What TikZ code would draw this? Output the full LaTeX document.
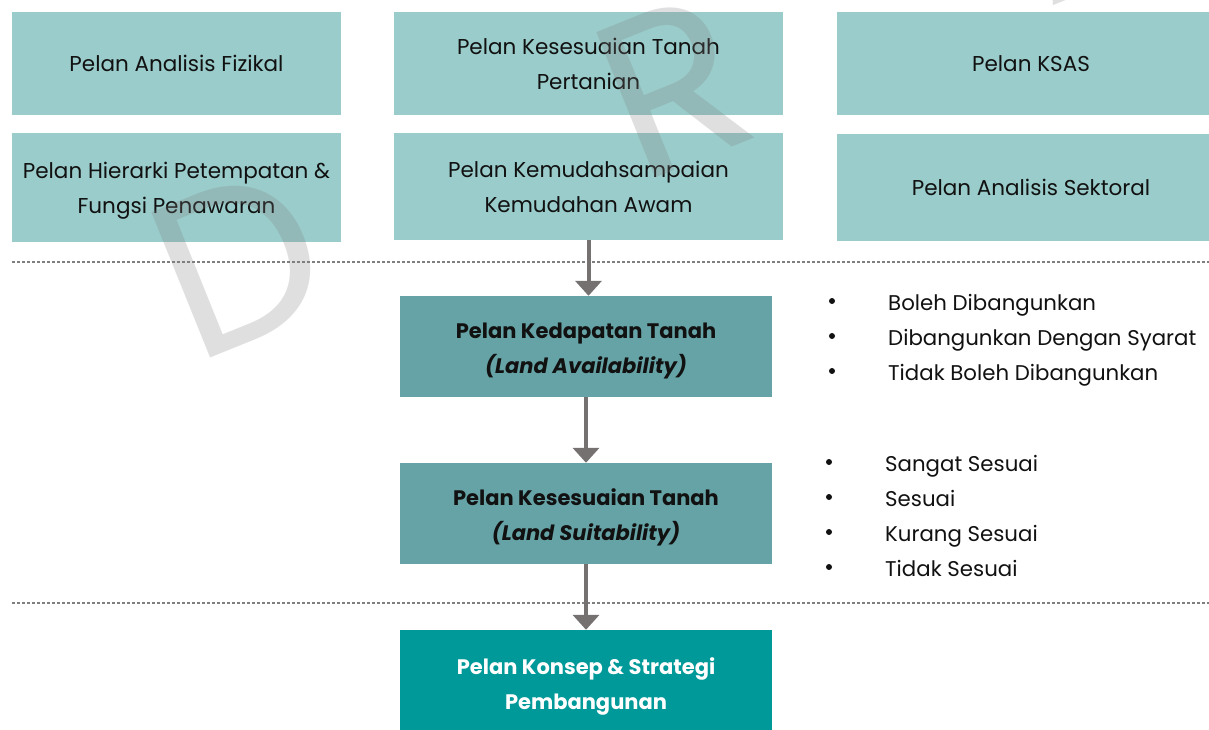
\documentclass[tikz,border=0pt]{standalone}
\usepackage{fontspec}
\setmainfont{Poppins}
\usetikzlibrary{arrows.meta}
\definecolor{lightteal}{HTML}{99CCCA}
\definecolor{midteal}{HTML}{66A3A6}
\definecolor{darkteal}{HTML}{009999}
\definecolor{arrgray}{HTML}{767171}
\definecolor{dotgray}{HTML}{7F7F7F}
\definecolor{txt}{HTML}{111111}
\tikzset{
  lbox/.style={rectangle, fill=lightteal, inner sep=0pt, align=center, text=txt, font=\fontsize{21.5}{35}\selectfont},
  ltext/.style={inner sep=0pt, align=center, text=txt, font=\fontsize{21.5}{35}\selectfont},
  mbox/.style={rectangle, fill=midteal, inner sep=0pt, minimum width=372pt, minimum height=101pt},
  fbox/.style={rectangle, fill=darkteal, inner sep=0pt, minimum width=372pt, minimum height=100pt},
  btext/.style={inner sep=0pt, align=center, text=txt, font=\bfseries\fontsize{21}{35}\selectfont},
  arr/.style={draw=arrgray, line width=4pt, -{Triangle[width=26pt,length=15pt]}},
  sep/.style={draw=dotgray, line width=2.5pt, dash pattern=on 3pt off 2pt},
  bul/.style={anchor=base west, inner sep=0pt, text=txt, font=\fontsize{21.3}{25}\selectfont},
  dot/.style={circle, fill=txt, inner sep=0pt, minimum size=6pt},
  wm/.style={text=gray, opacity=0.25, rotate=22, inner sep=0pt, font=\fontsize{225}{225}\selectfont}
}
\begin{document}
\begin{tikzpicture}[x=1pt,y=-1pt]
\useasboundingbox (0,0) rectangle (1209,730);
% top boxes
\node[lbox, minimum width=329pt, minimum height=103pt] (a1) at (176.5,63.5) {Pelan Analisis Fizikal};
\node[lbox, minimum width=389pt, minimum height=103pt] (b1) at (588.5,63.5) {Pelan Kesesuaian Tanah\\Pertanian};
\node[lbox, minimum width=388pt, minimum height=103pt] (c1) at (1031,63.5) {Pelan KSAS};
\node[lbox, minimum width=329pt, minimum height=109pt] (a2) at (176.5,187.5) {};
\node[ltext, yshift=-3pt] (a2t) at (a2) {Pelan Hierarki Petempatan \&\\Fungsi Penawaran};
\node[lbox, minimum width=389pt, minimum height=107pt] (b2) at (588.5,186.5) {Pelan Kemudahsampaian\\Kemudahan Awam};
\node[lbox, minimum width=388pt, minimum height=107pt] (c2) at (1031,187.5) {Pelan Analisis Sektoral};
% middle boxes
\node[mbox] (ked) at (586,346.5) {};
\node[btext, yshift=-5pt] (kedt) at (ked) {Pelan Kedapatan Tanah\\\itshape (Land Availability)};
\node[mbox] (kes) at (586,513.5) {};
\node[btext, yshift=-4pt] (kest) at (kes) {Pelan Kesesuaian Tanah\\\itshape (Land Suitability)};
\node[fbox] (kon) at (586,680) {};
\node[btext, text=white, yshift=-6pt] (kont) at (kon) {Pelan Konsep \& Strategi\\Pembangunan};
% watermark
\node[wm] (wD) at (239,262) {D};
\node[wm] (wR) at (674,86) {R};
\node[wm] (wA) at (1088,-92) {A};
% separators
\coordinate (s1a) at (12,262);
\coordinate (s1b) at (1209,262);
\coordinate (s2a) at (12,603);
\coordinate (s2b) at (1209,603);
\draw[sep] (s1a) -- (s1b);
\draw[sep] (s2a) -- (s2b);
% arrows
\draw[arr] (b2.south) -- (b2.south |- ked.north);
\draw[arr] (ked.south) -- (kes.north);
\draw[arr] (kes.south) -- (kon.north);
% bullet lists
\node[dot] (p1) at (832,301) {};
\node[bul] (t1) at (888,310) {Boleh Dibangunkan};
\node[dot] (p2) at (832,336) {};
\node[bul] (t2) at (888,345) {Dibangunkan Dengan Syarat};
\node[dot] (p3) at (832,371) {};
\node[bul] (t3) at (888,380) {Tidak Boleh Dibangunkan};
\node[dot] (q1) at (829,462) {};
\node[bul] (u1) at (885,471) {Sangat Sesuai};
\node[dot] (q2) at (829,497) {};
\node[bul] (u2) at (885,506) {Sesuai};
\node[dot] (q3) at (829,532) {};
\node[bul] (u3) at (885,541) {Kurang Sesuai};
\node[dot] (q4) at (829,567) {};
\node[bul] (u4) at (885,576) {Tidak Sesuai};
\end{tikzpicture}
\end{document}
